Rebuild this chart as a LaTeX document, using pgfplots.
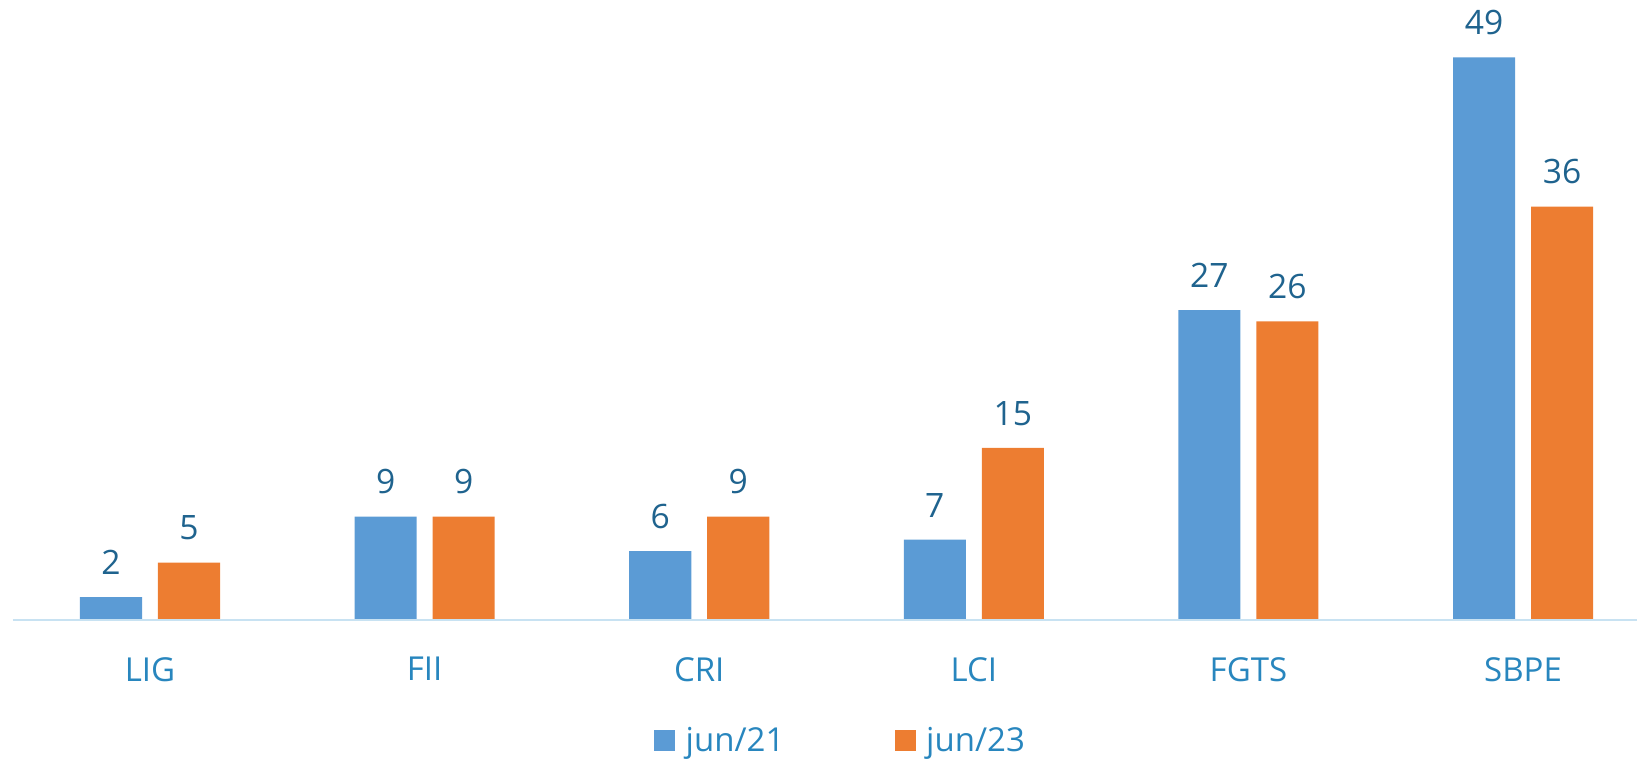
\documentclass[border=0pt]{standalone}
\usepackage{pgfplots}
\pgfplotsset{compat=1.18}
\usepackage{fontspec}
\setmainfont{Open Sans}
\definecolor{cblue}{HTML}{5B9BD5}
\definecolor{corange}{HTML}{ED7D31}
\definecolor{numcol}{RGB}{31,99,142}
\definecolor{labcol}{RGB}{40,134,190}
\definecolor{axcol}{RGB}{200,226,242}
\begin{document}
\begin{tikzpicture}
\begin{axis}[
  name=ax,
  scale only axis,
  width=812.15bp, height=310bp,
  xmin=-0.5, xmax=5.415,
  ymin=0, ymax=54,
  axis lines=none,
  clip=false,
  ybar, bar width=0.226,
  xtick=\empty, ytick=\empty,
  /pgf/number format/assume math mode=true,
  nodes near coords,
  every node near coord/.append style={font=\fontsize{16.8bp}{19bp}\selectfont, text=numcol, anchor=south, inner sep=0pt, yshift=11bp},
  legend columns=2,
  legend style={draw=none, fill=none, at={(rel axis cs:0.5123,0)}, anchor=center, yshift=-60.5bp,
    font=\fontsize{16.5bp}{19bp}\selectfont, text=labcol, inner sep=0pt,
    nodes={inner xsep=5.2bp, inner ysep=0pt},
    /tikz/every even column/.append style={column sep=50bp}},
  legend image code/.code={\path[#1,draw=none] (0bp,-4.8bp) rectangle (10.5bp,5.7bp);},
]
\addplot[fill=cblue, draw=none, bar shift=-0.142] coordinates {(0,2) (1,9) (2,6) (3,7) (4,27) (5,49)};
\addplot[fill=corange, draw=none, bar shift=0.142] coordinates {(0,5) (1,9) (2,9) (3,15) (4,26) (5,36)};
\legend{jun/21, jun/23}
\draw[axcol, line width=1bp] (rel axis cs:0,0) -- (rel axis cs:1,0);
\foreach \x/\lab in {0/LIG,1/FII,2/CRI,3/LCI,4/FGTS,5/SBPE}{
  \edef\tmp{\noexpand\node[anchor=north, inner sep=0pt, yshift=-18.5bp, font=\noexpand\fontsize{16.5bp}{19bp}\noexpand\selectfont, text=labcol] at (axis cs:\x,0) {\lab};}
  \tmp
}
\coordinate (bbA) at (rel axis cs:0,0);
\coordinate (bbB) at (rel axis cs:1,1);
\end{axis}
\pgfresetboundingbox
\path[use as bounding box] ([xshift=-6.35bp,yshift=-69.5bp]bbA) rectangle (bbB);
\end{tikzpicture}
\end{document}
